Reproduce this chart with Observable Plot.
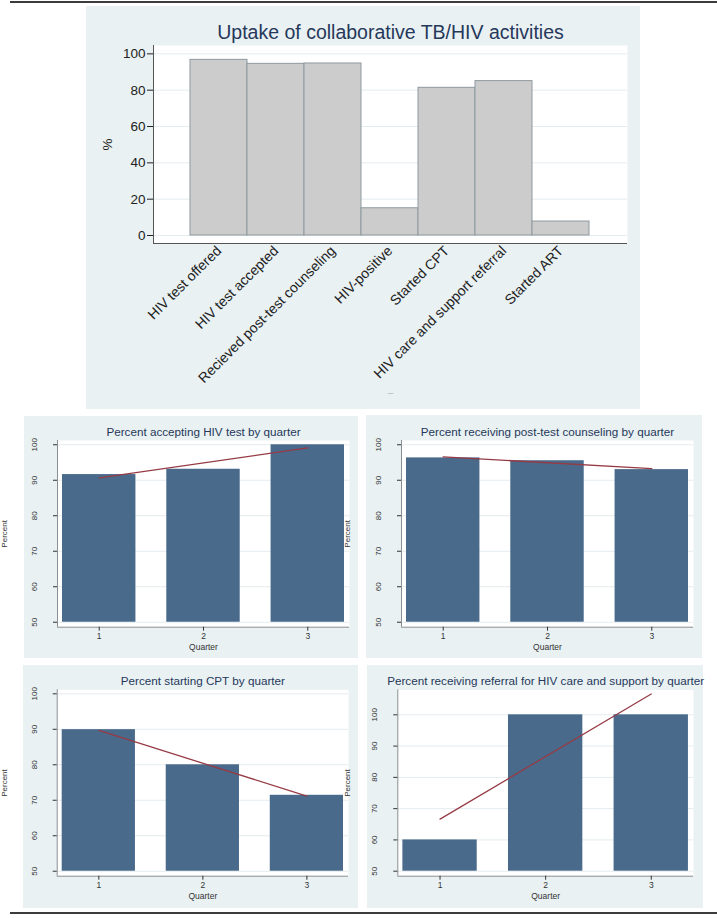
<!DOCTYPE html>
<html><head><meta charset="utf-8">
<script src="https://cdn.jsdelivr.net/npm/d3@7"></script>
<script src="https://cdn.jsdelivr.net/npm/@observablehq/plot@0.6"></script>
<style>
body{margin:0;background:#fff;}
#root{position:relative;width:717px;height:918px;overflow:hidden;font-family:"Liberation Sans",Arial,sans-serif;}
.panel{position:absolute;}
.hr{position:absolute;left:10px;right:0;height:2px;background:#3c3c3c;}
</style></head><body><div id="root"></div>
<script>
// ---------- data ----------
const activities = ["HIV test offered","HIV test accepted","Recieved post-test counseling","HIV-positive","Started CPT","HIV care and support referral","Started ART"];
const uptakePct = [96.7, 94.5, 94.7, 15.0, 81.3, 85.0, 7.7];
const yTicksTop = [0, 20, 40, 60, 80, 100];

const quarters = [1, 2, 3];
const acceptPct = [91.6, 93.1, 100];
const counselPct = [96.3, 95.5, 93.0];
const cptPct = [89.9, 80.0, 71.4];
const referralPct = [60.0, 100, 100];
const yTicksQ = [50, 60, 70, 80, 90, 100];
const barBase = 50;

const titles = {
  top: "Uptake of collaborative TB/HIV activities",
  a: "Percent accepting HIV test by quarter",
  b: "Percent receiving post-test counseling by quarter",
  c: "Percent starting CPT by quarter",
  d: "Percent receiving referral for HIV care and support by quarter"
};

// ---------- style ----------
const FONT = '"Liberation Sans", Arial, sans-serif';
const BG = "#e9f1f3";
const GRID = "#e4ecef";
const TITLE = "#26385a";
const BAR = "#496a8b";
const FIT = "#963b45";

const root = document.getElementById("root");
function place(node, left, top) {
  const d = document.createElement("div");
  d.className = "panel";
  d.style.left = left + "px"; d.style.top = top + "px";
  d.appendChild(node);
  root.appendChild(d);
}
function hr(top) {
  const d = document.createElement("div");
  d.className = "hr"; d.style.top = top + "px";
  root.appendChild(d);
}
hr(1); hr(912);

// ---------- top chart ----------
const topData = activities.map((a, i) => ({activity: a, pct: uptakePct[i]}));
const topY = [-4.4, 104.6];
const topChart = Plot.plot({
  width: 554, height: 403,
  marginLeft: 67, marginRight: 13, marginTop: 39, marginBottom: 166,
  style: {background: BG, fontFamily: FONT, overflow: "visible", maxWidth: "none"},
  x: {type: "band", domain: activities, padding: 0, insetLeft: 37, insetRight: 38, label: null},
  y: {domain: topY, label: null},
  marks: [
    Plot.frame({fill: "white", stroke: "none"}),
    Plot.gridY(yTicksTop, {stroke: GRID, strokeOpacity: 1}),
    Plot.barY(topData, {x: "activity", y: "pct", fill: "#cccccc", stroke: "#8e999f", strokeWidth: 1}),
    Plot.ruleY([topY[0]], {stroke: "#555"}),
    Plot.frame({anchor: "left", stroke: "#555"}),
    Plot.axisY(yTicksTop, {tickSize: 6, tickPadding: 2, fontSize: 13.5, color: "#222", label: "%", labelArrow: "none", labelAnchor: "center", labelOffset: 51}),
    Plot.axisX({tickSize: 0, tickRotate: -45, tickPadding: 5, fontSize: 14, color: "#222", label: null}),
    Plot.text([titles.top], {frameAnchor: "top", lineAnchor: "middle", dy: -13, fontSize: 19.5, fill: TITLE}),
    Plot.text(["–"], {frameAnchor: "bottom", lineAnchor: "middle", dy: 149, fontSize: 10, fill: "#b8bec1"})
  ]
});
place(topChart, 86, 6);

// ---------- quarter panels ----------
function quarterPanel(values, title, o) {
  const data = quarters.map((q, i) => ({q, pct: values[i]}));
  return Plot.plot({
    width: o.w, height: o.h,
    marginLeft: o.ml, marginRight: o.mr, marginTop: o.mt, marginBottom: o.mb,
    style: {background: BG, fontFamily: FONT, overflow: "visible", maxWidth: "none"},
    x: {domain: [0.6, 3.4], label: null},
    y: {domain: o.yDomain, label: null},
    marks: [
      Plot.frame({fill: "white", stroke: "none"}),
      Plot.gridY(yTicksQ, {stroke: GRID, strokeOpacity: 1}),
      Plot.rectY(data, {x1: d => d.q - 0.352, x2: d => d.q + 0.352, y1: barBase, y2: "pct", fill: BAR}),
      Plot.linearRegressionY(data, {x: "q", y: "pct", stroke: FIT, strokeWidth: 1.3, ci: 0}),
      Plot.ruleX([0.6], {stroke: "#8a8f92"}),
      Plot.ruleY([o.yDomain[0]], {stroke: "#8a8f92"}),
      Plot.axisY(yTicksQ, {tickSize: 4, tickPadding: 16.5, tickRotate: -90, fontSize: 8, color: "#333",
        label: "Percent", labelArrow: "none", labelAnchor: "center", labelOffset: o.lo}),
      Plot.axisX(quarters, {tickSize: 4, tickPadding: 2, fontSize: 8.5, color: "#333",
        label: "Quarter", labelArrow: "none", labelAnchor: "center", labelOffset: 23}),
      Plot.text([title], {frameAnchor: "top", lineAnchor: "middle", dy: o.tdy, fontSize: 11.7, fill: TITLE})
    ]
  });
}

place(quarterPanel(acceptPct, titles.a,
  {w: 334, h: 242, ml: 33, mr: 9, mt: 24, mb: 31.3, yDomain: [48.6, 101.2], lo: 56, tdy: -8}), 24, 416);
place(quarterPanel(counselPct, titles.b,
  {w: 336, h: 243, ml: 35, mr: 9, mt: 25, mb: 31.3, yDomain: [48.6, 101.2], lo: 57, tdy: -8}), 366, 415);
place(quarterPanel(cptPct, titles.c,
  {w: 335, h: 243, ml: 33.7, mr: 10, mt: 24.3, mb: 32.3, yDomain: [48.6, 101.13], lo: 56, tdy: -8.6}), 23, 665);
place(quarterPanel(referralPct, titles.d,
  {w: 336, h: 243, ml: 30.3, mr: 10, mt: 24.3, mb: 32.3, yDomain: [48.4, 108], lo: 53, tdy: -8.6}), 367, 665);
</script></body></html>
